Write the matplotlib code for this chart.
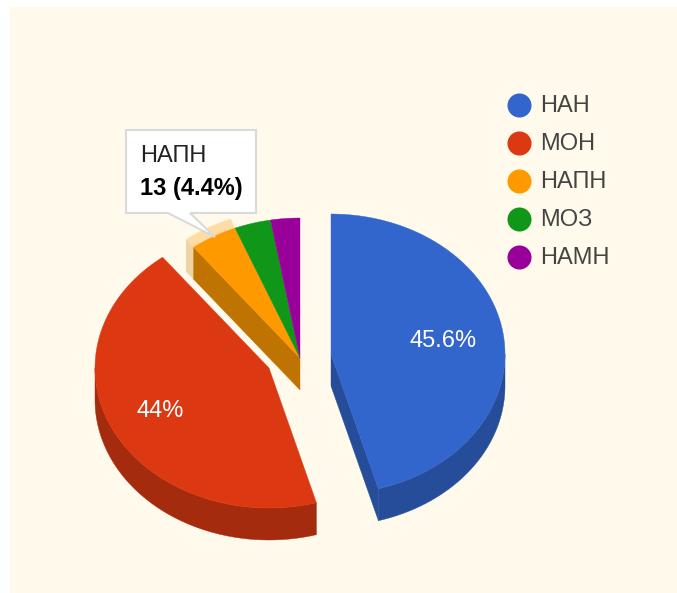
import numpy as np
import matplotlib
matplotlib.use("Agg")
import matplotlib.pyplot as plt
from matplotlib.patches import Polygon, Rectangle

plt.rcParams['font.family'] = ['Liberation Sans', 'DejaVu Sans']

labels = ['НАН', 'МОН', 'НАПН', 'МОЗ', 'НАМН']
values = [135, 130, 13, 10, 8]
colors = ['#3366cc', '#dc3912', '#ff9900', '#109618', '#990099']
dark = ['#264d99', '#a52b0e', '#bf7300', '#0c7012', '#720072']
pct_labels = ['45.6%', '44%', None, None, None]
tooltip_title = 'НАПН'
tooltip_value = '13 (4.4%)'

centers = [(331, 354), (269, 368), (300, 358), (300, 358), (300, 358)]
RX, RY, DEPTH = 174, 140, 32
BG = '#fffaeb'
FS = 17

fig = plt.figure(figsize=(6.77, 5.93), dpi=100, facecolor='white')
ax = fig.add_axes([0, 0, 1, 1])
ax.set_xlim(0, 677)
ax.set_ylim(593, 0)
ax.axis('off')
ax.add_patch(Rectangle((10, 7), 667, 586, fc=BG, ec='none', zorder=0))

total = sum(values)
fr = np.cumsum([0] + values) / total * 360.0


def pt(c, t, s=1.0, dy=0.0):
    t = np.radians(t)
    return np.column_stack([c[0] + s * RX * np.sin(t), c[1] - s * RY * np.cos(t) + dy])


def arc(a, b, n=90):
    return np.linspace(a, b, n)


def add(xy, color, z):
    ax.add_patch(Polygon(xy, closed=True, fc=color, ec=color, lw=0.3, zorder=z))


def side_band(c, a, b, color, z):
    lo, hi = max(a, 90), min(b, 270)
    if lo < hi:
        top = pt(c, arc(lo, hi))
        add(np.vstack([top, pt(c, arc(hi, lo), dy=DEPTH)]), color, z)


def top_face(c, a, b, color, z):
    add(np.vstack([[c], pt(c, arc(a, b))]), color, z)


# back group: orange, green, purple, with the hover ring on orange
c = centers[2]
a, b = fr[2], fr[3]
edge = pt(c, [a])[0]
ring_edge = pt(c, [a], s=1.07)[0]
add([ring_edge, edge, edge + [0, DEPTH], ring_edge + [0, DEPTH]], '#edd3a6', 3)
add([edge, edge + [0, DEPTH], np.array(c) + [0, DEPTH], c], dark[2], 3)
add(np.vstack([pt(c, arc(a, b), s=1.07), pt(c, arc(b, a))]), '#ffdca6', 4)
for i in (2, 3, 4):
    top_face(centers[i], fr[i], fr[i + 1], colors[i], 5)

# red slice
side_band(centers[1], fr[1], fr[2], dark[1], 6)
top_face(centers[1], fr[1], fr[2], colors[1], 7)

# blue slice
c = centers[0]
end = pt(c, [fr[1]])[0]
add([c, end, end + [0, DEPTH], np.array(c) + [0, DEPTH]], dark[0], 6)
side_band(c, fr[0], fr[1], dark[0], 6)
top_face(c, fr[0], fr[1], colors[0], 7)

# slice labels
ax.text(443.5, 341, pct_labels[0], color='white', fontsize=FS, ha='center', va='center', zorder=8)
ax.text(160.5, 411, pct_labels[1], color='white', fontsize=FS, ha='center', va='center', zorder=8)

# legend
legend_y = [105, 143, 181, 219, 257]
for y, lab, col in zip(legend_y, labels, colors):
    ax.scatter([519], [y], s=300, color=col, linewidths=0, zorder=8)
    ax.text(540, y + 1, lab, color='#444444', fontsize=FS, ha='left', va='center', zorder=8)

# tooltip
box = [(126, 130), (256, 130), (256, 213), (190, 213), (215, 237), (168, 213), (126, 213)]
ax.add_patch(Polygon(box, closed=True, fc='white', ec='#dadada', lw=1.5, zorder=9))
ax.text(140, 156, tooltip_title, color='#222222', fontsize=FS, ha='left', va='center', zorder=10)
ax.text(140, 188, tooltip_value, color='#000000', fontsize=FS, fontweight='bold', ha='left', va='center', zorder=10)

fig.savefig('out.png', dpi=100, facecolor='white')
